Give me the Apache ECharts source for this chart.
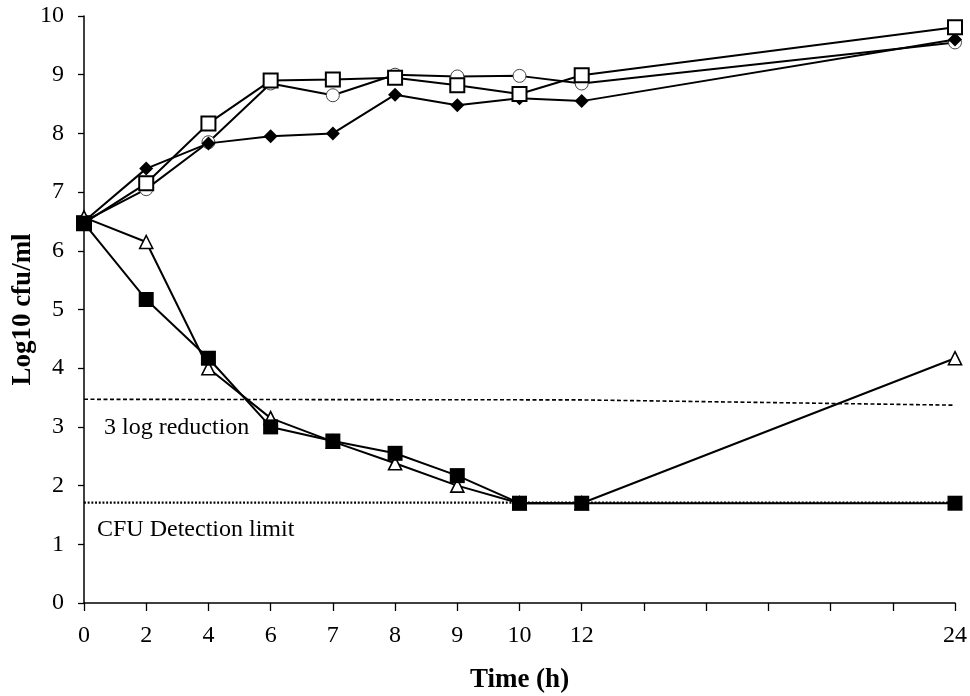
<!DOCTYPE html>
<html>
<head>
<meta charset="utf-8">
<script src="https://cdn.jsdelivr.net/npm/echarts@6/dist/echarts.min.js"></script>
<style>html,body{margin:0;padding:0;background:#fff}#c{width:970px;height:696px}</style>
</head>
<body>
<div id="c"></div>
<script>
// Axis tick labels (category positions); blank ticks between 12 and 24
var tickLabels = ['0','2','4','6','7','8','9','10','12',' ','  ','   ','    ','     ','24'];
// Sampling times (h)
var times = ['0','2','4','6','7','8','9','10','12','24'];

// Series values (log10 cfu/ml)
var openCircle   = [6.50, 7.05, 7.85, 8.85, 8.65, 9.00, 8.97, 8.98, 8.85, 9.55];
var filledDiamond= [6.50, 7.40, 7.83, 7.95, 8.00, 8.66, 8.48, 8.60, 8.55, 9.60];
var openSquare   = [6.47, 7.15, 8.17, 8.90, 8.92, 8.95, 8.82, 8.67, 8.99, 9.81];
var openTriangle = [6.57, 6.15, 4.00, 3.15, 2.75, 2.38, 2.00, 1.70, 1.70, 4.17];
var filledSquare = [6.47, 5.17, 4.17, 3.00, 2.76, 2.55, 2.17, 1.70, 1.70, 1.70];

// Reference lines
var reductionTimes = ['0','12','24'];
var reductionLine  = [3.47, 3.46, 3.37];
var detectionTimes = ['0','24'];
var detectionLine  = [1.71, 1.71];

function pairs(ts, vs){ return ts.map(function(t,i){ return [t, vs[i]]; }); }

var FONT = 'Liberation Serif';
var chart = echarts.init(document.getElementById('c'), null, {renderer:'canvas'});

function markerSeries(name, vals, symbol, size, fill, border, bw, z){
  return {
    name: name, type: 'line', data: pairs(times, vals),
    symbol: symbol, symbolSize: size, showAllSymbol: true,
    lineStyle: {color:'#000', width:2},
    itemStyle: {color: fill, borderColor: border, borderWidth: bw, opacity:1},
    z: z, animation: false
  };
}

var option = {
  backgroundColor: '#fff',
  animation: false,
  grid: {left:84, right:15, top:16, bottom:93, containLabel:false, outerBoundsMode:'none'},
  xAxis: {
    type:'category', data: tickLabels, boundaryGap:false,
    name:'Time (h)', nameLocation:'middle', nameGap:64, nameMoveOverlap:false,
    nameTextStyle:{fontFamily:FONT, fontWeight:'bold', fontSize:27, color:'#000'},
    axisLine:{lineStyle:{color:'#000', width:1.5}},
    axisTick:{show:true, length:8, inside:false, lineStyle:{color:'#000', width:1.3}, interval:0},
    axisLabel:{interval:0, fontFamily:FONT, fontSize:24, color:'#000', margin:21},
    splitLine:{show:false}
  },
  yAxis: {
    type:'value', min:0, max:10, interval:1,
    name:'Log10 cfu/ml', nameLocation:'middle', nameGap:47, nameRotate:90, nameMoveOverlap:false,
    nameTextStyle:{fontFamily:FONT, fontWeight:'bold', fontSize:27, color:'#000'},
    axisLine:{show:true, lineStyle:{color:'#000', width:1.5}},
    axisTick:{show:true, length:6, inside:false, lineStyle:{color:'#000', width:1.3}},
    axisLabel:{fontFamily:FONT, fontSize:24, color:'#000', margin:20},
    splitLine:{show:false}
  },
  series: [
    {name:'3 log reduction', type:'line', data: pairs(reductionTimes, reductionLine), symbol:'none',
     lineStyle:{color:'#000', width:1.6, type:[4,2.5]}, z:1, animation:false},
    {name:'CFU Detection limit', type:'line', data: pairs(detectionTimes, detectionLine), symbol:'none',
     lineStyle:{color:'#000', width:2.4, type:[1.9,1.8], cap:'butt'}, z:1, animation:false},
    markerSeries('Open circle', openCircle, 'circle', 13, '#fff', '#444', 1, 2),
    markerSeries('Filled diamond', filledDiamond, 'diamond', 14, '#000', '#000', 0, 3),
    markerSeries('Open square', openSquare, 'rect', 14, '#fff', '#000', 2, 4),
    markerSeries('Open triangle', openTriangle, 'triangle', 13, '#fff', '#000', 1.6, 5),
    markerSeries('Filled square', filledSquare, 'rect', 15, '#000', '#000', 0, 6)
  ],
  graphic: [
    {type:'text', left:104, top:416, style:{text:'3 log reduction', fontFamily:FONT, fontSize:24, fill:'#000'}, z:10},
    {type:'text', left:97, top:518, style:{text:'CFU Detection limit', fontFamily:FONT, fontSize:24, fill:'#000'}, z:10}
  ]
};
chart.setOption(option);
</script>
</body>
</html>
